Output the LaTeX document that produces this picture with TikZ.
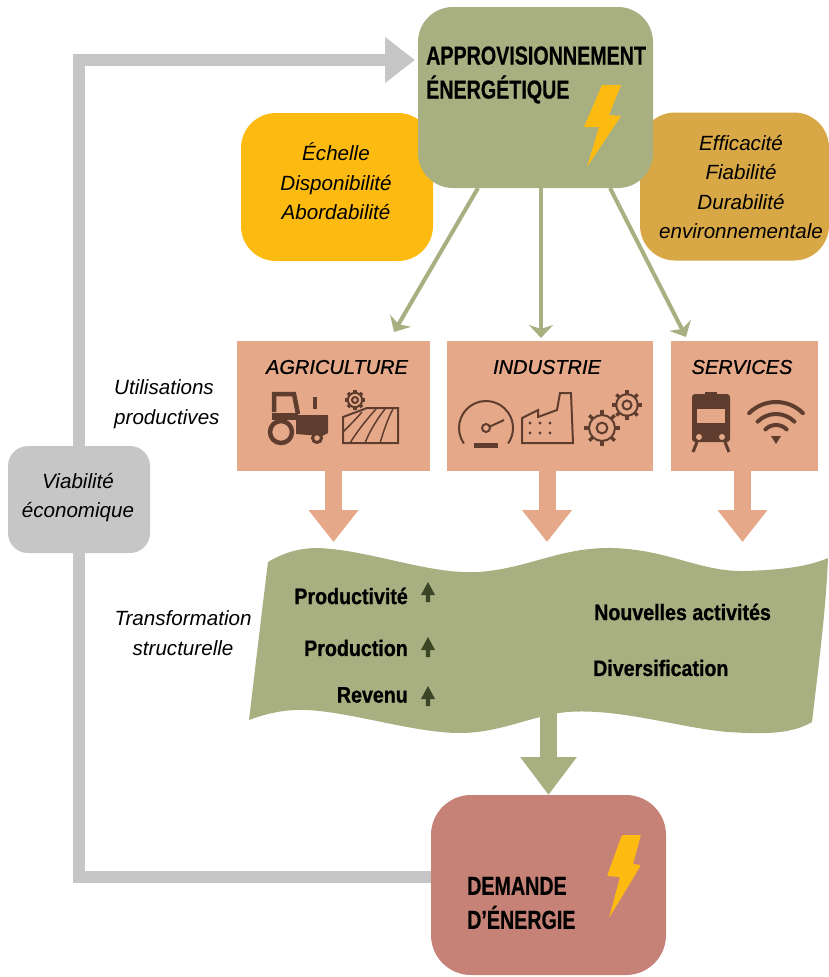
\documentclass[tikz,border=0pt]{standalone}
\usepackage{fontspec}
\setmainfont{Liberation Sans}
\newfontfamily\condfont[FakeStretch=0.757,FakeBold=0.4]{Liberation Sans Bold}
\newfontfamily\wavefont[FakeStretch=0.88,FakeBold=0.8]{Liberation Sans Bold}
\newfontfamily\sectorfont[FakeBold=0.8]{Liberation Sans Italic}
\usetikzlibrary{arrows.meta,calc}
\definecolor{leaf}{HTML}{A8B081}
\definecolor{salmon}{HTML}{E5A98A}
\definecolor{sun}{HTML}{FDBB11}
\definecolor{ochre}{HTML}{D9A846}
\definecolor{ash}{HTML}{C6C6C6}
\definecolor{brick}{HTML}{C78277}
\definecolor{umber}{HTML}{5E3D2E}
\definecolor{sprout}{HTML}{3A4526}
\tikzset{
    pics/gear/.style={code={
        \draw[umber,line width=2pt] (0,0) circle (#1*0.72);
        \draw[umber,line width=2pt] (0,0) circle (#1*0.3);
        \foreach \a in {0,45,...,315}
            \draw[umber,line width=3.5pt] (\a:#1*0.72) -- (\a:#1);
    }},
    pics/upmark/.style={code={
        \fill[sprout] (-2.2,10) -- (2.2,10) -- (2.2,3) -- (7,3) -- (0,-10) -- (-7,3) -- (-2.2,3) -- cycle;
    }}
}
\begin{document}
\begin{tikzpicture}[x=1pt,y=-1pt,>=Triangle,
    box/.style={draw=none,inner sep=0pt,outer sep=0pt,align=center},
    sidebox/.style={box,rounded corners=35pt,minimum height=148pt},
    sector/.style={box,fill=salmon,minimum height=130pt},
    italictext/.style={inner sep=0pt,align=center,font=\fontsize{20.6}{29.5}\selectfont\itshape},
    headtext/.style={inner sep=0pt,align=left,anchor=west,font=\fontsize{26}{34}\selectfont\condfont},
    sectortext/.style={inner sep=0pt,font=\fontsize{20}{24}\selectfont\sectorfont},
    wavetext/.style={inner sep=0pt,font=\fontsize{22.3}{26}\selectfont\wavefont},
    greyline/.style={draw=ash,line width=12pt},
    thinarrow/.style={draw=leaf,line width=4pt,-{Stealth[length=13pt,width=24pt,inset=4pt]}},
    sectorarrow/.style={draw=salmon,line width=17pt,-{Triangle[length=32pt,width=48pt]}},
    wavearrow/.style={draw=leaf,line width=17pt,-{Triangle[length=38pt,width=54pt]}},
    icon/.style={draw=umber,line width=1.5pt}]

    \useasboundingbox (0,0) rectangle (829,977);
    \fill[white] (0,0) rectangle (829,977);

    \node[sidebox,fill=sun,minimum width=192pt] (scale) at (337,187) {};
    \node[sidebox,fill=ochre,minimum width=189pt] (quality) at (734.5,186.5) {};
    \node[box,fill=leaf,rounded corners=35pt,minimum width=235pt,minimum height=181pt] (supply) at (535.5,97.5) {};
    \node[box,fill=brick,rounded corners=40pt,minimum width=235pt,minimum height=180pt] (demand) at (548.5,885) {};
    \node[box,fill=ash,rounded corners=20pt,minimum width=142pt,minimum height=107pt] (viable) at (79,499.5) {};

    \node[sector,minimum width=193pt] (agri) at (333.5,406) {};
    \node[sector,minimum width=206pt] (indus) at (550,406) {};
    \node[sector,minimum width=147pt] (serv) at (744.5,406) {};

    \coordinate (supplyIn) at (supply.west |- 0,60);
    \coordinate (demandOut) at (demand.west |- 0,877);
    \draw[greyline] (demandOut) -| (viable.south);
    \draw[greyline,-{Triangle[length=30pt,width=44pt]},shorten >=3pt] (viable.north) |- (supplyIn);

    \coordinate (outA) at (478,188);
    \coordinate (outB) at (541,188);
    \coordinate (outC) at (610,188);
    \coordinate (inA) at (394,332);
    \coordinate (inB) at (541,338);
    \coordinate (inC) at (686,337);
    \draw[thinarrow] (outA) -- (inA);
    \draw[thinarrow] (outB) -- (inB);
    \draw[thinarrow] (outC) -- (inC);

    \fill[leaf] (268,562) .. controls (285,552) and (300,548) .. (318,548)
        .. controls (370,550) and (430,575) .. (479,572)
        .. controls (530,568) and (560,547) .. (613,548)
        .. controls (670,550) and (700,572) .. (745,571)
        .. controls (775,570) and (805,568) .. (828,558)
        .. controls (826,610) and (818,670) .. (812,722)
        .. controls (790,735) and (760,734) .. (728,732)
        .. controls (680,728) and (620,708) .. (567,712)
        .. controls (530,716) and (500,733) .. (460,733)
        .. controls (410,733) and (340,708) .. (295,710)
        .. controls (275,711) and (260,716) .. (249,720)
        .. controls (255,670) and (262,610) .. (268,562) -- cycle;

    \coordinate (wave) at (0,542);
    \coordinate (waveOut) at (demand.north |- 0,713);
    \draw[sectorarrow] (agri.south) -- (agri.south |- wave);
    \draw[sectorarrow] ([xshift=-3pt]indus.south) -- ([xshift=-3pt]indus.south |- wave);
    \draw[sectorarrow] ([xshift=-2pt]serv.south) -- ([xshift=-2pt]serv.south |- wave);
    \draw[wavearrow] (waveOut) -- (demand.north);

    \fill[sun] (602,85) -- (621,85) -- (609,115) -- (621,116) -- (587,167) -- (599,127) -- (584,127) -- cycle;
    \fill[sun,rounded corners=1pt] (622,835) -- (641,835) -- (633,864) -- (641,865) -- (609,918) -- (620,877) -- (607,876) -- cycle;

    \node[headtext] (supplyText) at (426,75) {APPROVISIONNEMENT\\ÉNERGÉTIQUE};
    \node[headtext] (demandText) at (467,903) {DEMANDE\\D’ÉNERGIE};

    \node[italictext] (scaleText) at (336,181.5) {Échelle\\Disponibilité\\Abordabilité};
    \node[italictext] (qualityText) at (741,187) {Efficacité\\Fiabilité\\Durabilité\\environnementale};
    \node[italictext] (viableText) at (78,497.5) {Viabilité\\économique};
    \node[italictext,align=left,anchor=west] (useText) at (114,404) {Utilisations\\productives};
    \node[italictext] (changeText) at (183,633) {Transformation\\structurelle};

    \node[sectortext] (agriText) at (337,367) {AGRICULTURE};
    \node[sectortext] (indusText) at (547,367) {INDUSTRIE};
    \node[sectortext] (servText) at (742,367) {SERVICES};

    \node[wavetext,anchor=east] (prodText) at (408,596) {Productivité};
    \node[wavetext,anchor=east] (outputText) at (408,648) {Production};
    \node[wavetext,anchor=east] (incomeText) at (408,695) {Revenu};
    \node[wavetext,anchor=west] (newText) at (594,612) {Nouvelles activités};
    \node[wavetext,anchor=west] (diverText) at (593,668) {Diversification};
    \pic at (428,592) {upmark};
    \pic at (428,647) {upmark};
    \pic at (428,696) {upmark};

    % tractor
    \draw[umber,line width=4.5pt] (274,412) -- (274,394) -- (294,394) -- (298,414);
    \fill[umber] (296,415) -- (328,415) -- (328,433) -- (322,436) -- (296,434) -- cycle;
    \fill[umber] (272,413) -- (298,413) -- (298,420) -- (272,420) -- cycle;
    \draw[umber,line width=4.5pt,fill=salmon] (281,432) circle (11);
    \draw[umber,line width=3pt,fill=salmon] (317,438) circle (4.5);
    \draw[umber,line width=4.5pt] (315,397) -- (315,409);

    % field
    \pic at (355,400) {gear=10};
    \draw[icon,line width=2pt,fill=salmon] (343,417) -- (367,408) -- (398,408) -- (398,443) -- (343,443) -- cycle;
    \draw[icon] (343,432) .. controls (350,425) and (355,420) .. (362,412);
    \draw[icon] (350,443) .. controls (358,430) and (368,418) .. (376,409);
    \draw[icon] (365,443) .. controls (370,430) and (378,418) .. (385,409);
    \draw[icon] (380,443) .. controls (384,430) and (388,418) .. (393,409);

    % gauge
    \begin{scope}[shift={(486,428)},y=1pt]
        \draw[umber,line width=2pt] (215:27) arc (215:-35:27);
        \draw[umber,line width=2pt] (0,0) circle (4);
        \draw[umber,line width=2pt] (3,1) -- (18,8);
        \draw[umber,line width=5pt] (-12,-17) -- (12,-17);
    \end{scope}

    % factory
    \draw[umber,line width=2pt] (522,443) -- (573,443) -- (571,393) -- (560,393) -- (557,410) -- (538,417) -- (538,410) -- (522,418) -- cycle;
    \foreach \x in {530,540,550}
        \foreach \y in {423,433}
            \fill[umber] (\x,\y) circle (1.7);

    % gears
    \pic at (602,428) {gear=18};
    \pic at (627,405) {gear=15};

    % train
    \fill[umber,rounded corners=3pt] (692,394) rectangle (730,442);
    \fill[salmon] (697,409) rectangle (725,423);
    \fill[salmon] (699,437) circle (3);
    \fill[salmon] (722,437) circle (3);
    \draw[umber,line width=3pt] (697,442) -- (693,452);
    \draw[umber,line width=3pt] (725,442) -- (729,452);
    \draw[umber,line width=2pt] (705,393) -- (717,393);

    % wifi
    \begin{scope}[shift={(776,440)},y=1pt]
        \foreach \r in {38,26,15}
            \draw[umber,line width=4pt,line cap=round] (45:\r) arc (45:135:\r);
        \fill[umber] (-5,4) -- (5,4) -- (0,-4) -- cycle;
    \end{scope}
\end{tikzpicture}
\end{document}
